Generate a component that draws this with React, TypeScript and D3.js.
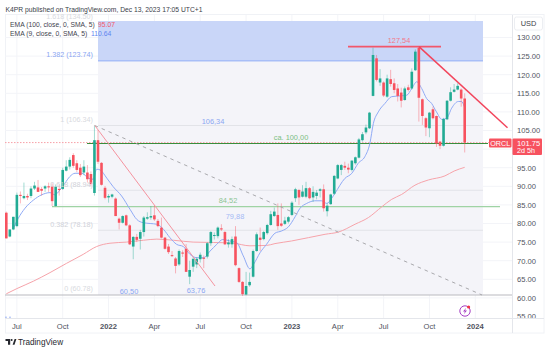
import React from "react";
import * as d3 from "d3";

const opens = [82.9,76.5,78.4,79.3,87.7,86.8,87.4,87.4,89.4,89.7,89.3,89.4,90,90,84.7,89.3,89.3,94.2,95.3,98.4,96.2,95,93.7,93.7,93.3,88.2,102.4,96.3,89.6,87,87.2,86.7,81.3,80.2,82.2,79.5,73.8,76.4,75.9,77.7,81.3,81.6,82.2,80.7,78.9,76.2,73.8,71.5,70.6,69,72.2,73.2,65.7,68.4,69,70.4,70.8,71.1,74.7,76.7,76.6,78.7,77.7,74.4,74.4,76.5,68,64.3,60.9,63.4,65.7,72.6,76.2,75.8,77.4,79.6,82,82.3,80,79.9,80.5,82.3,86.8,89,87.2,87.2,89.5,87,87.4,88.8,89.2,83.3,85.2,88,92.1,94.4,95.5,95,94.4,96.2,97.7,102.4,104.5,105.6,114.3,124.4,117.9,117.9,114.1,118.8,117.7,116.3,115.2,113.2,116.6,116.3,121.2,127.2,113.4,108.3,105.6,110.7,108.9,102,100.9,108,113,115.4,116,116,113.6];
const closes = [76,78.4,81.8,87.7,87.4,87.4,87,89.4,90.2,88.5,88.8,90,89.7,86,89.9,89,94.4,95.3,97.1,95.5,94.4,93,95.3,91.9,90.6,102.4,96.6,90.4,86.9,87.4,87.8,82,80.2,82,79.5,74.4,76.4,75.6,77.7,81.6,81.7,82,81.1,79.3,76.2,73.2,72.3,71.3,68.6,72.6,71.9,67,67.5,70.5,70.5,71.6,70.5,74.7,77.7,76.9,78.9,78.4,74.4,74.9,75.8,68.8,64.3,61,63.2,64.3,72.6,77.1,75.6,77.7,79.6,82.5,83.2,79.3,79.4,80.8,81.7,85.6,89.2,87,88.6,89.5,86.8,88.5,88.3,89.2,84.1,84.8,87.8,92.8,95.7,95.7,95,94.5,96.9,97.8,102.6,104,105.8,109.8,125.3,118.6,119,114.4,119,117.5,115.9,114.3,113,116.3,115.9,120.8,126.2,113.8,108.9,105.8,109.8,108.3,101.5,100.9,108.1,113,115.3,116,117,113.6,101.75];
const highs = [83.2,78.4,81.8,88.3,88.6,91,88,90,91.2,91.7,89.8,90.3,91,90.8,90.5,90.5,95,97,97.8,98.9,97,96,97,95.7,94,106.4,105.1,96.5,90.1,87.9,88,87,81.6,82.2,82.4,79.8,76.6,77.2,78.3,82,83,84.7,84.9,81.2,81.6,76.4,74.5,72.6,71,73,72.8,74.5,70,71,71,72.2,71.4,75,78,77.6,79.2,79.8,78,75.8,76.5,79.3,68.2,64.5,67,66.8,73,77.6,78.9,78,79.9,83.4,84.3,85.4,85.4,81.8,82,86,89.6,89.3,90.3,91.2,89.8,90,89,89.5,90.5,85.4,88,93,96,96,96.6,96.1,97,98,103,104.6,106.6,110,127.3,125.3,121.5,118.2,120,121.3,119,117.5,116.5,116.8,117.3,121.7,126.8,127.5,113.6,108.6,110,111.4,109,102.2,108.4,113.2,116.6,117.5,117.7,116.3,115];
const lows = [76,76.3,78.2,79,85.4,86.5,86.3,86.8,89,88.5,87.5,88.5,88.5,84.7,84.6,87.5,89,94,94.5,95,93.8,92.5,93,91,90,87.5,96,90.2,86.5,85.6,86.8,82,78.4,80,79.3,74.2,70.4,75,73,76.5,81,81,80.7,79,76,73,71.8,71,66.6,68.6,71,67,63.7,67,68,69.5,68,70.6,74,75.7,76,78,74.2,73.5,73.5,68.5,64,60.5,60.7,63,65.5,72.4,72.6,75.5,77,79.4,81.8,78.3,79.1,79.6,80,82,85.8,85,87,86.8,86.5,85.8,86.5,87,83.2,81.9,85,87.7,91.9,93,94.4,93.5,94,95.8,97.5,102,104,105.4,114.2,118.2,117,114,113.8,116.8,115,112.8,111.2,113,115.5,116,121,107.4,106.5,103.5,103.2,108,100.6,100,100.7,107.8,112.8,115.2,115.8,111.4,99.1];

const emaFastWeeks = [2,3.4,5.3,7.7,10,12.4,13.8,15.2,16.6,18,19.5,21.4,23.3,24.7,25.6,26.6,28.5,30.3,32.7,35.1,37,38.9,40.8,42.7,44.6,46.4,48.3,50.2,52.1,54,55.9,57.8,59.7,61.4,63.4,65.3,67.2,69.1,70.1,72,73.8,76.2,78.1,80,81.9,83.3,85.2,87.5,89.4,90.9,92.3,93.2,96,98,99.8,101.7,103.1,104.1,105.5,107.4,109.3,111.7,113.6,115,116.4,117.8,119.2,120.6,122,123.5,124.9,126.3,128.2,129.1,129.9];
const emaFastValues = [78.7,81.4,84.1,86.3,87.7,88.3,87.7,89,90.8,92.6,93.5,93.5,92.2,91.9,94.6,94.4,92.2,89.9,87.4,83.8,81.1,80.2,80,79.8,78.4,76.2,74.4,73.8,71.7,70.8,70.8,72.6,74.4,75.7,75.3,74.9,71.3,67.8,69,72.2,74.4,77.4,78,79.1,81.8,84.1,85.4,86.1,86.1,85.4,86.8,88.1,92.1,93.5,96.2,98,101.5,106.9,110,112.3,114.1,114.3,114.5,116.3,118.1,116.3,113.6,112.3,110,108,108.3,111,112.8,112.8,111.4];
const emaSlowWeeks = [0,3,7.7,12.4,17.1,21.8,25.6,29.4,34.1,38.9,42.7,47.4,53,58.7,64.4,69.1,73.8,76.2,80.9,85.7,90.4,94.2,98.9,102.7,106.5,109.3,112.1,115.9,119.7,124.4,127,130];
const emaSlowValues = [61.1,62.5,64.5,66.8,69.3,71.7,73.8,74.7,75,75.5,75.8,75.5,75,74.9,74.7,74,74.1,74.6,75.3,76.2,77.1,77.7,79.8,81.6,84.5,86.5,87.8,90.3,91.7,92.8,94.1,95.1];

const priceTicks = [130,125,120,115,110,105,95,90,85,80,75,70,65,60,55];
const gridPrices = [130,125,120,115,110,105,100,95,90,85,80,75,70,65,60];
const timeTicks = ["Jul","Oct","2022","Apr","Jul","Oct","2023","Apr","Jul","Oct","2024"];
const timeWeeks = [3,16,29,42,55,68,81,94,107,120,133];

const fibLevels = [106.34,88.94,78.18];
const fibLabels = [["1.382 (123.74)",123.74,"#8ba6f2"],["1 (106.34)",106.34,"#d8dae0"],["0.618 (88.94)",88.94,"#d0d2d8"],["0.382 (78.18)",78.18,"#d0d2d8"],["0 (60.78)",60.78,"#d8dae0"]] as const;

const FONT = "'Liberation Sans', Arial, sans-serif";
const GREEN = "#22ab94";
const RED = "#f7525f";

const x = d3.scaleLinear().domain([0, 130]).range([6.3, 464.7]);
const y = d3.scaleLinear().domain([130, 60]).range([37.5, 297.9]);
const lineOf = (ws: number[], vs: number[]) =>
  d3.line<number>().x((w) => x(w)).y((_, i) => y(vs[i])).curve(d3.curveMonotoneX)(ws) as string;

export default function App() {
  return (
    <svg width={550} height={352} style={{ position: "fixed", left: 0, top: 0, background: "#fff" }} fontFamily={FONT}>
      <defs>
        <clipPath id="pane"><rect x={5} y={15} width={507.5} height={303} /></clipPath>
      </defs>
      <text x={5.5} y={11.8} fontSize={6.75} fill="#3a3e48">K4PR published on TradingView.com, Dec 13, 2023 17:05 UTC+1</text>

      {/* frame */}
      <rect x={5.5} y={14.5} width={538.5} height={318.5} fill="none" stroke="#f0f2f6" />
      <line x1={512.5} x2={512.5} y1={15} y2={333} stroke="#e4e6eb" />
      <line x1={5} x2={544} y1={318.5} y2={318.5} stroke="#e4e6eb" />

      <g clipPath="url(#pane)">
        {gridPrices.map((p) => <line key={p} x1={5} x2={512} y1={y(p)} y2={y(p)} stroke="#f3f4f8" />)}
        {timeWeeks.map((w, i) => <line key={i} x1={x(w)} x2={x(w)} y1={15} y2={318} stroke="#f3f4f8" />)}

        {/* fib zones */}
        <rect x={98} y={y(123.74)} width={385} height={y(60.78) - y(123.74)} fill="#f4f4f9" />
        <rect x={98} y={21} width={385} height={y(123.74) - 21} fill="#c9d6f8" />
        <line x1={98} x2={483} y1={y(123.74)} y2={y(123.74)} stroke="#a8bef7" strokeWidth={1.6} />
        {fibLevels.map((p) => <line key={p} x1={98} x2={483} y1={y(p)} y2={y(p)} stroke="#e2e3e8" />)}
        <line x1={5} x2={512} y1={y(60.78)} y2={y(60.78)} stroke="#b9babf" strokeWidth={1.2} />

        {/* support lines */}
        <line x1={52} x2={500} y1={y(84.52)} y2={y(84.52)} stroke="#9fd3a4" strokeWidth={1.2} />
        <line x1={5} x2={512} y1={y(101.75)} y2={y(101.75)} stroke="#f7a0a8" strokeDasharray="1.5 1.5" />
        <line x1={87} x2={488} y1={y(101.5)} y2={y(101.5)} stroke="#388e3c" strokeWidth={1.2} />

        <path d={lineOf(emaSlowWeeks, emaSlowValues)} fill="none" stroke="#f6a3aa" strokeWidth={1} />
        <path d={lineOf(emaFastWeeks, emaFastValues)} fill="none" stroke="#8faaf5" strokeWidth={1} />

        {/* candles */}
        {opens.map((o, i) => {
          const c = closes[i];
          const col = c >= o ? GREEN : RED;
          const cx = x(i);
          return (
            <g key={i}>
              <line x1={cx} x2={cx} y1={y(highs[i])} y2={y(lows[i])} stroke={col} strokeOpacity={0.42} strokeWidth={1} />
              <rect x={cx - 1.3} width={2.6} y={y(Math.max(o, c))} height={Math.max(1, Math.abs(y(o) - y(c)))} fill={col} />
            </g>
          );
        })}

        {/* trend drawings */}
        <line x1={x(25.1)} y1={y(106.34)} x2={482} y2={y(60.78)} stroke="#a9a9ad" strokeDasharray="3.5 4" />
        <line x1={x(25.1)} y1={y(106.34)} x2={215} y2={286} stroke="#f4939f" strokeWidth={1} />
        <line x1={348} x2={441} y1={y(127.54)} y2={y(127.54)} stroke="#f2576b" strokeWidth={1.8} />
        <line x1={419} y1={y(127.54)} x2={507.5} y2={127.7} stroke="#f2455c" strokeWidth={1.5} />

        {/* event icon */}
        <circle cx={465} cy={311} r={5.2} fill="#fff" stroke="#a63fc4" strokeWidth={1} />
        <path d="M466.2 307.8 L463 311.6 L465 311.6 L463.8 314.2 L467 310.4 L465 310.4 Z" fill="#a63fc4" />
        <circle cx={468.6} cy={307} r={1.6} fill="#f23645" />

        <circle cx={6} cy={317.2} r={0.6} fill="#5f85f0" />
        <circle cx={10} cy={317.2} r={0.6} fill="#5f85f0" />
      </g>

      {/* annotation text */}
      <g fontSize={7.4} textAnchor="middle">
        <text x={399} y={43} fill="#f2778a">127,54</text>
        <text x={213} y={123.5} fill="#8ba6f2">106,34</text>
        <text x={291} y={140} fill="#7cc083">ca. 100,00</text>
        <text x={228} y={202.5} fill="#8cc492">84,52</text>
        <text x={235} y={218.5} fill="#a4b9f5">79,88</text>
        <text x={129} y={294} fill="#8ba6f2">60,50</text>
        <text x={196} y={293} fill="#8ba6f2">63,76</text>
      </g>
      <g fontSize={7.2} textAnchor="end">
        <text x={93} y={19} fill="#d8dae0">1.618 (134.50)</text>
        {fibLabels.map(([t, p, col]) => (
          <text key={t} x={93} y={y(p) - 3.5} fill={col}>{t}</text>
        ))}
      </g>

      {/* legend */}
      <g fontSize={6.75}>
        <text x={10} y={26.5} fill="#3f434e">EMA (100, close, 0, SMA, 5)</text>
        <text x={98} y={26.5} fill="#f2576b">95.07</text>
        <text x={10} y={36} fill="#3f434e">EMA (9, close, 0, SMA, 5)</text>
        <text x={91} y={36} fill="#5f85f0">110.64</text>
      </g>

      {/* price axis */}
      <rect x={514.5} y={17} width={28} height={13} rx={2} fill="#fff" stroke="#eceef2" />
      <text x={528.5} y={26.3} textAnchor="middle" fontSize={7.4} fill="#3a3e48">USD</text>
      <g clipPath="url(#axisClip)" fontSize={7.6} fill="#50535e">
        <clipPath id="axisClip"><rect x={513} y={15} width={31} height={303} /></clipPath>
        {priceTicks.map((p) => (
          <text key={p} x={517} y={y(p) + 2.8}>{p.toFixed(2)}</text>
        ))}
      </g>
      <rect x={489} y={138.5} width={22.5} height={9} rx={1} fill={RED} />
      <text x={500.2} y={145.7} textAnchor="middle" fontSize={7.2} fill="#fff">ORCL</text>
      <rect x={512.5} y={138.5} width={29.5} height={16.5} rx={1} fill={RED} />
      <text x={517} y={145.7} fontSize={7.6} fill="#fff">101.75</text>
      <text x={517} y={153.2} fontSize={7.2} fill="#fff">2d 5h</text>

      {/* time axis */}
      <g fontSize={7.6} textAnchor="middle" fill="#50535e">
        {timeTicks.map((t, i) => (
          <text key={i} x={x(timeWeeks[i])} y={328.5} fontWeight={/^\d/.test(t) ? 700 : 400}>{t}</text>
        ))}
      </g>

      {/* logo */}
      <g fill="#26282e">
        <path d="M5.5 339 H10.2 V344.8 H8 V341 H5.5 Z" />
        <circle cx={11.6} cy={340} r={1} />
        <path d="M12.6 344.8 L14.6 339 H16.4 L14.5 344.8 Z" />
      </g>
      <text x={18} y={345} fontSize={8.2} fill="#26282e">TradingView</text>
    </svg>
  );
}
